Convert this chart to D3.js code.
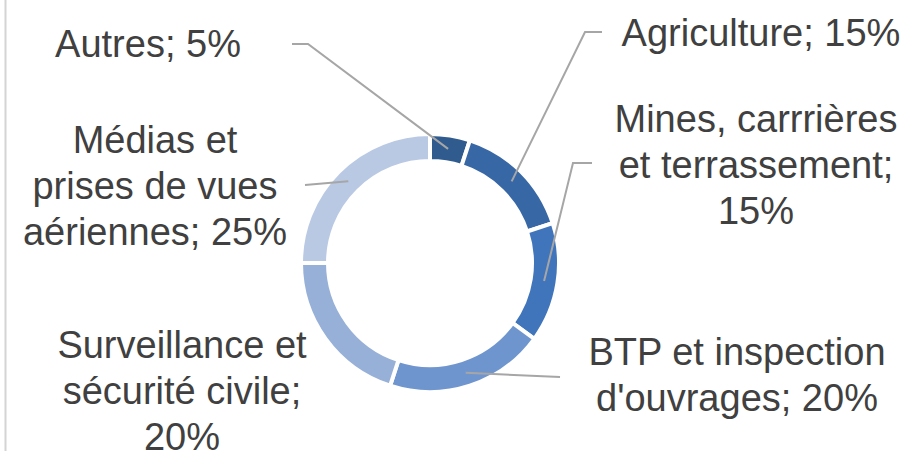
<!DOCTYPE html>
<html>
<head>
<meta charset="utf-8">
<script src="https://cdn.jsdelivr.net/npm/d3@7/dist/d3.min.js"></script>
<style>
  html, body { margin: 0; padding: 0; background: #fff; }
  svg { display: block; }
  text { font-family: "Liberation Sans", Arial, sans-serif; fill: #404040; }
</style>
</head>
<body>
<svg id="chart" width="911" height="451"></svg>
<script>
// ---- Data ----
const categories = [
  "Autres",
  "Agriculture",
  "Mines, carrrières et terrassement",
  "BTP et inspection d'ouvrages",
  "Surveillance et sécurité civile",
  "Médias et prises de vues aériennes"
];
const values = [5, 15, 15, 20, 20, 25];
const labelLines = [
  ["Autres; 5%"],
  ["Agriculture; 15%"],
  ["Mines, carrrières", "et terrassement;", "15%"],
  ["BTP et inspection", "d'ouvrages; 20%"],
  ["Surveillance et", "sécurité civile;", "20%"],
  ["Médias et", "prises de vues", "aériennes; 25%"]
];
const colors = ["#2f5b8e", "#3867a6", "#4175bb", "#6f95cf", "#97b0d8", "#b9c9e4"];

// ---- Layout (not data) ----
const W = 911, H = 451;
const cx = 430, cy = 263, rOuter = 129, rInner = 102;
const fontSize = 38, lineH = 46;
// label anchor: center x, first baseline y; leader: [start point, optional elbow]
const labelLayout = [
  { x: 148, y: 57,  leader: [[292, 44], [308, 44]] },
  { x: 761, y: 46,  leader: [[602, 32], [585, 32]] },
  { x: 756, y: 132, leader: [[592, 163], [573, 163]] },
  { x: 737, y: 365, leader: [[560, 377]] },
  { x: 182, y: 358, leader: null },
  { x: 155, y: 153, leader: [[305, 185]] }
];

const svg = d3.select("#chart");

// left border
svg.append("line")
  .attr("x1", 5.5).attr("x2", 5.5).attr("y1", 0).attr("y2", H)
  .attr("stroke", "#d4d4d4").attr("stroke-width", 2);

const pie = d3.pie().value(d => d).sort(null);
const arcs = pie(values);
const arc = d3.arc().innerRadius(rInner).outerRadius(rOuter);
const midArc = d3.arc().innerRadius((rInner + rOuter) / 2).outerRadius((rInner + rOuter) / 2);

const g = svg.append("g").attr("transform", `translate(${cx},${cy})`);
g.selectAll("path.slice")
  .data(arcs)
  .join("path")
  .attr("class", "slice")
  .attr("d", arc)
  .attr("fill", (d, i) => colors[i])
  .attr("stroke", "#fff")
  .attr("stroke-width", 4)
  .attr("stroke-linejoin", "miter");

// leader lines
const line = d3.line();
arcs.forEach((a, i) => {
  const L = labelLayout[i];
  if (!L.leader) return;
  const c = midArc.centroid(a);
  const pts = L.leader.concat([[cx + c[0], cy + c[1]]]);
  svg.append("path")
    .attr("d", line(pts))
    .attr("fill", "none")
    .attr("stroke", "#a6a6a6")
    .attr("stroke-width", 2);
});

// labels
labelLines.forEach((lines, i) => {
  const L = labelLayout[i];
  const t = svg.append("text")
    .attr("text-anchor", "middle")
    .attr("font-size", fontSize);
  lines.forEach((s, k) => {
    t.append("tspan").attr("x", L.x).attr("y", L.y + k * lineH).text(s);
  });
});
</script>
</body>
</html>
